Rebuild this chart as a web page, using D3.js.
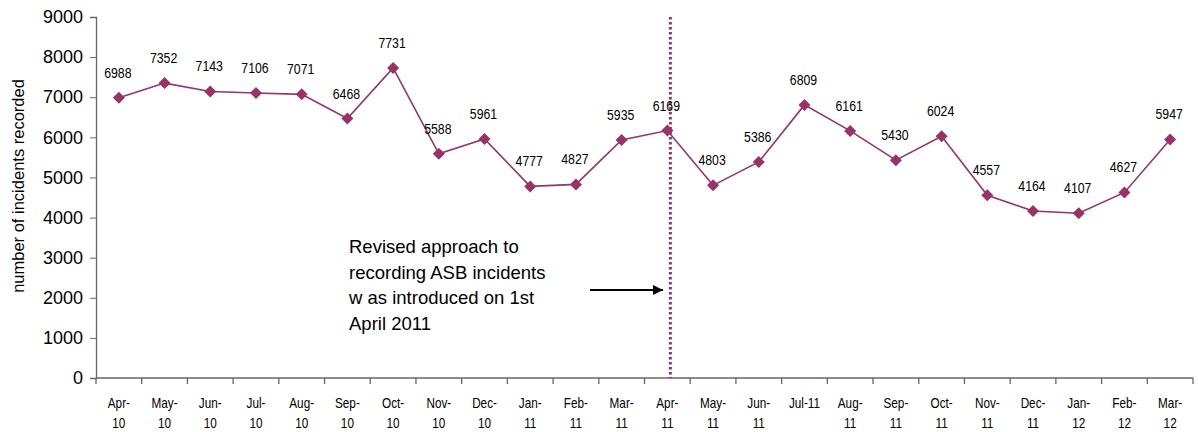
<!DOCTYPE html>
<html><head><meta charset="utf-8">
<script src="https://cdn.jsdelivr.net/npm/d3@7"></script>
<style>body{margin:0;background:#fff}svg{display:block}</style>
</head><body>
<svg id="c" width="1198" height="432"></svg>
<script>
const months = ["Apr-10","May-10","Jun-10","Jul-10","Aug-10","Sep-10","Oct-10","Nov-10","Dec-10","Jan-11","Feb-11","Mar-11","Apr-11","May-11","Jun-11","Jul-11","Aug-11","Sep-11","Oct-11","Nov-11","Dec-11","Jan-12","Feb-12","Mar-12"];
const monthLabels = [["Apr-","10"],["May-","10"],["Jun-","10"],["Jul-","10"],["Aug-","10"],["Sep-","10"],["Oct-","10"],["Nov-","10"],["Dec-","10"],["Jan-","11"],["Feb-","11"],["Mar-","11"],["Apr-","11"],["May-","11"],["Jun-","11"],["Jul-11"],["Aug-","11"],["Sep-","11"],["Oct-","11"],["Nov-","11"],["Dec-","11"],["Jan-","12"],["Feb-","12"],["Mar-","12"]];
const incidents = [6988,7352,7143,7106,7071,6468,7731,5588,5961,4777,4827,5935,6169,4803,5386,6809,6161,5430,6024,4557,4164,4107,4627,5947];
const yTicks = [0,1000,2000,3000,4000,5000,6000,7000,8000,9000];
const changeMonth = "Apr-11";
const noteLines = ["Revised approach to","recording ASB incidents","w as introduced on 1st","April 2011"];

const svg = d3.select("#c");
const L = 96, R = 1193, T = 17, B = 378;
const col = "#993366";
const narrow = "Liberation Sans, Arial, sans-serif";
const x = d3.scaleBand().domain(months).range([L, R]);
const y = d3.scaleLinear().domain([0, 9000]).range([B, T]);
const cx = d => x(d) + x.bandwidth()/2;

// y axis
const ya = svg.append("g").attr("transform", `translate(${L},0)`)
  .call(d3.axisLeft(y).tickValues(yTicks).tickSize(6).tickPadding(7).tickFormat(d3.format("d")));
ya.select(".domain").attr("stroke", "#666").attr("stroke-width", 1.3);
ya.selectAll(".tick line").attr("stroke", "#666");
ya.selectAll("text").attr("font-family", "Liberation Sans, Arial, sans-serif").attr("font-size", 18).attr("fill", "#000");

// x axis
const xa = svg.append("g").attr("transform", `translate(0,${B})`);
xa.append("line").attr("x1", L).attr("x2", R).attr("stroke", "#666").attr("stroke-width", 1.3);
const bounds = months.map(m => x(m)).concat([R]);
xa.selectAll("line.t").data(bounds).enter().append("line").attr("class","t")
  .attr("x1", d => d).attr("x2", d => d).attr("y1", 0).attr("y2", 6).attr("stroke", "#666").attr("stroke-width", 1.3);
const xl = xa.selectAll("text.m").data(months).enter().append("text").attr("class","m")
  .attr("transform", d => `translate(${cx(d)},30) scale(0.84,1)`)
  .attr("text-anchor", "middle")
  .attr("font-family", narrow)
  .attr("font-size", 14).attr("fill", "#000");
xl.each(function(d, i) {
  const t = d3.select(this);
  monthLabels[i].forEach((s, j) => t.append("tspan").attr("x", 0).attr("dy", j ? 20 : 0).text(s));
});

// y axis title
svg.append("text").attr("transform", `translate(24,186) rotate(-90)`)
  .attr("text-anchor", "middle").attr("font-family", "Liberation Sans, Arial, sans-serif")
  .attr("font-size", 16.5).text("number of incidents recorded");

// dotted line
svg.append("line").attr("x1", cx(changeMonth)+3).attr("x2", cx(changeMonth)+3)
  .attr("y1", T).attr("y2", B).attr("stroke", col).attr("stroke-width", 3).attr("stroke-dasharray", "2.5,2.5");

// series line
svg.append("path").datum(incidents)
  .attr("d", d3.line().x((d,i) => cx(months[i])).y(d => y(d)))
  .attr("fill", "none").attr("stroke", col).attr("stroke-width", 1.6);
svg.selectAll("path.mk").data(incidents).enter().append("path").attr("class","mk")
  .attr("transform", (d,i) => `translate(${cx(months[i])},${y(d)})`)
  .attr("d", "M0,-6L6,0L0,6L-6,0Z").attr("fill", col);
svg.selectAll("text.v").data(incidents).enter().append("text").attr("class","v")
  .attr("transform", (d,i) => `translate(${cx(months[i]) - 1},${y(d) - 20}) scale(0.82,1)`)
  .attr("text-anchor", "middle")
  .attr("font-family", narrow)
  .attr("font-size", 15).attr("fill", "#000").text(d => d);

// note
svg.append("text").attr("font-family", "Liberation Sans, Arial, sans-serif").attr("font-size", 18.5)
  .selectAll("tspan").data(noteLines).enter().append("tspan")
  .attr("x", 349).attr("y", (d,i) => 253 + i*25.7).text(d => d);
svg.append("defs").append("marker").attr("id","ah").attr("viewBox","0 0 10 10").attr("refX",10).attr("refY",5)
  .attr("markerWidth",10).attr("markerHeight",10).attr("markerUnits","userSpaceOnUse").attr("orient","auto")
  .append("path").attr("d","M0,0L10,5L0,10Z").attr("fill","#000");
svg.append("line").attr("x1", 590).attr("x2", 663).attr("y1", 290).attr("y2", 290)
  .attr("stroke", "#000").attr("stroke-width", 2).attr("marker-end", "url(#ah)");
</script>
</body></html>
